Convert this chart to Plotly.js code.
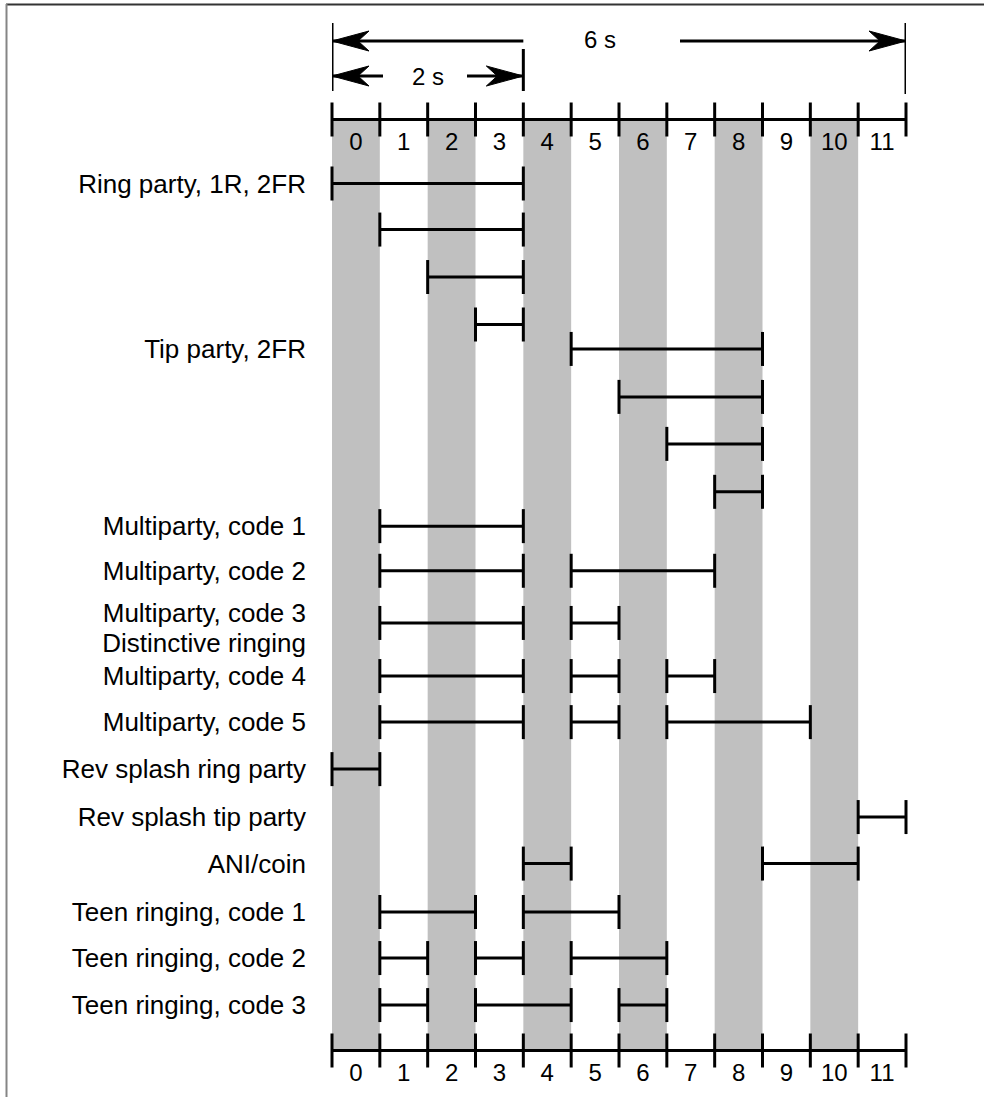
<!DOCTYPE html>
<html>
<head>
<meta charset="utf-8">
<script src="https://cdn.plot.ly/plotly-3.0.1.min.js"></script>
<style>
  html, body { margin: 0; padding: 0; background: #ffffff; }
  #chart { width: 984px; height: 1097px; }
</style>
</head>
<body>
<div id="chart"></div>
<script>
// ---------- data ----------
// ringing slots of 0.5 s each
const slotLabels = ['0', '1', '2', '3', '4', '5', '6', '7', '8', '9', '10', '11'];
const slotBoundaries = [0, 1, 2, 3, 4, 5, 6, 7, 8, 9, 10, 11, 12];
const shadedSlots = [0, 2, 4, 6, 8, 10];

const rowLabels = [
  'Ring party, 1R, 2FR', '', '', '',
  'Tip party, 2FR', '', '', '',
  'Multiparty, code 1',
  'Multiparty, code 2',
  'Multiparty, code 3',
  'Multiparty, code 4',
  'Multiparty, code 5',
  'Rev splash ring party',
  'Rev splash tip party',
  'ANI/coin',
  'Teen ringing, code 1',
  'Teen ringing, code 2',
  'Teen ringing, code 3'
];
const noteLabel = 'Distinctive ringing';   // sub-caption under "Multiparty, code 3"
const noteRow = 10;

// ringing bursts per row: start / end slot boundary
const burstStart = [[0], [1], [2], [3], [5], [6], [7], [8], [1], [1, 5], [1, 5], [1, 5, 7], [1, 5, 7], [0], [11], [4, 9], [1, 4], [1, 3, 5], [1, 3, 6]];
const burstEnd   = [[4], [4], [4], [4], [9], [9], [9], [9], [4], [4, 8], [4, 6], [4, 6, 8], [4, 6, 10], [1], [12], [5, 11], [3, 6], [2, 4, 7], [2, 5, 7]];

// dimension markers (seconds, 0.5 s per slot)
const dimLabels = ['6 s', '2 s'];
const dimSeconds = [6, 2];
const secondsPerSlot = 0.5;

// ---------- layout helpers (pixel -> axis units) ----------
const X0 = 332, SLOT = 574 / 12;
const px2x = p => (p - X0) / SLOT;
const Y0 = 183.5, ROW = 47;
const py = p => (p - Y0) / ROW;
// vertical row placement (row units)
const rowPos = [0, 0.98, 1.99, 3.0, 3.52, 4.54, 5.54, 6.56, 7.29, 8.24, 9.35, 10.48, 11.46, 12.46, 13.48, 14.47, 15.5, 16.48, 17.48];

const FONT = 'Liberation Sans, Arial, Helvetica, sans-serif';
const BLACK = '#000000';
const TICK = 34 / 1.4;   // line-ns marker length = 1.4 * size

// ---------- traces ----------
const bandTop = py(120), bandBot = py(1050);
const bands = {
  type: 'bar',
  x: shadedSlots.map(s => s + 0.5),
  y: shadedSlots.map(() => bandBot - bandTop),
  base: shadedSlots.map(() => bandTop),
  width: shadedSlots.map(() => 1),
  marker: { color: '#c0c0c0', line: { width: 0 } },
  hoverinfo: 'skip'
};

const segX = [], segY = [], endX = [], endY = [];
burstStart.forEach((starts, r) => {
  starts.forEach((s, k) => {
    const e = burstEnd[r][k];
    segX.push(s, e, null);
    segY.push(rowPos[r], rowPos[r], null);
    endX.push(s, e);
    endY.push(rowPos[r], rowPos[r]);
  });
});
const segLines = {
  type: 'scatter', mode: 'lines', x: segX, y: segY,
  line: { color: BLACK, width: 3 }, cliponaxis: false, hoverinfo: 'skip'
};
const segEnds = {
  type: 'scatter', mode: 'markers', x: endX, y: endY,
  marker: { symbol: 'line-ns', size: TICK, color: BLACK, line: { width: 3, color: BLACK } },
  cliponaxis: false, hoverinfo: 'skip'
};

function ruler(yLine, yText) {
  const first = slotBoundaries[0], last = slotBoundaries[slotBoundaries.length - 1];
  return [
    { type: 'scatter', mode: 'lines', x: [first, last], y: [yLine, yLine],
      line: { color: BLACK, width: 3 }, cliponaxis: false, hoverinfo: 'skip' },
    { type: 'scatter', mode: 'markers', x: slotBoundaries, y: slotBoundaries.map(() => yLine),
      marker: { symbol: 'line-ns', size: TICK, color: BLACK, line: { width: 3, color: BLACK } },
      cliponaxis: false, hoverinfo: 'skip' },
    { type: 'scatter', mode: 'text', x: slotLabels.map((_, i) => i + 0.5), y: slotLabels.map(() => yText),
      text: slotLabels, textposition: 'middle center',
      textfont: { family: FONT, size: 24, color: BLACK }, cliponaxis: false, hoverinfo: 'skip' }
  ];
}

const traces = [bands, segLines, segEnds]
  .concat(ruler(py(119.5), py(144)))
  .concat(ruler(py(1050.5), py(1075)));

// ---------- y tick labels ----------
const tickVals = rowPos.slice();
const tickText = rowLabels.slice();
tickVals[noteRow] = rowPos[noteRow] - 10 / ROW;
tickVals.push(rowPos[noteRow] + 20 / ROW);
tickText.push(noteLabel);

// ---------- dimension arrows ----------
const span6 = dimSeconds[0] / secondsPerSlot;   // 12 slots
const span2 = dimSeconds[1] / secondsPerSlot;   // 4 slots
const shapes = [];
function vline(x, p0, p1) {
  shapes.push({ type: 'line', xref: 'x', yref: 'y', x0: x, x1: x, y0: py(p0), y1: py(p1),
    line: { color: BLACK, width: 3 } });
}
function hline(x0, x1, p) {
  shapes.push({ type: 'line', xref: 'x', yref: 'y', x0: x0, x1: x1, y0: py(p), y1: py(p),
    line: { color: BLACK, width: 3 } });
}
function head(x, p, dir) {
  const L = 37 * dir, B = 26 * dir, H = 10;
  shapes.push({ type: 'path', xref: 'x', yref: 'y', xsizemode: 'pixel', ysizemode: 'pixel',
    xanchor: x, yanchor: py(p),
    path: `M0,0L${L},${H}L${B},0L${L},${-H}Z`,
    fillcolor: BLACK, line: { color: BLACK, width: 1 } });
}
// 6 s
vline(0, 23, 91);
vline(span6, 23, 94);
hline(0, span2, 41);
hline(px2x(680), span6, 41);
head(0, 41, 1);
head(span6, 41, -1);
// 2 s
vline(span2, 49, 91);
hline(0, px2x(383), 76);
hline(px2x(467), span2, 76);
head(0, 76, 1);
head(span2, 76, -1);

// page frame (top and left edges)
const pxToPaperX = p => (p - X0) / 574;
const pxToPaperY = p => 1 - p / 1097;
shapes.push({ type: 'line', xref: 'paper', yref: 'paper',
  x0: pxToPaperX(6), x1: pxToPaperX(984), y0: pxToPaperY(4.5), y1: pxToPaperY(4.5),
  line: { color: '#333333', width: 2 } });
shapes.push({ type: 'line', xref: 'paper', yref: 'paper',
  x0: pxToPaperX(6.5), x1: pxToPaperX(6.5), y0: pxToPaperY(4), y1: pxToPaperY(1097),
  line: { color: '#858585', width: 2 } });

const annotations = [
  { xref: 'x', yref: 'y', x: px2x(600), y: py(39), text: dimLabels[0], showarrow: false,
    font: { family: FONT, size: 24, color: BLACK } },
  { xref: 'x', yref: 'y', x: px2x(428), y: py(76), text: dimLabels[1], showarrow: false,
    font: { family: FONT, size: 24, color: BLACK } }
];

const layout = {
  width: 984, height: 1097,
  margin: { l: X0, r: 984 - 906, t: 0, b: 0, pad: 0 },
  paper_bgcolor: '#ffffff', plot_bgcolor: '#ffffff',
  showlegend: false, hovermode: false,
  xaxis: { range: [0, 12], visible: false, fixedrange: true },
  yaxis: {
    range: [py(1097), py(0)],
    tickmode: 'array', tickvals: tickVals, ticktext: tickText,
    showgrid: false, zeroline: false, showline: false, ticks: '',
    ticklabelstandoff: 25,
    tickfont: { family: FONT, size: 26, color: BLACK },
    automargin: false, fixedrange: true
  },
  shapes: shapes,
  annotations: annotations,
  font: { family: FONT }
};

Plotly.newPlot('chart', traces, layout, { displayModeBar: false, staticPlot: true });
</script>
</body>
</html>
